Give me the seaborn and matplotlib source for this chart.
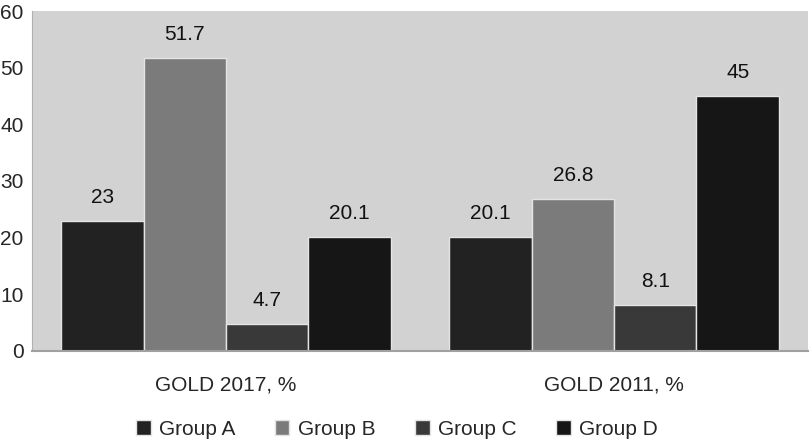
# Grouped bar chart: GOLD 2017 vs GOLD 2011 group distribution

import pandas as pd
import seaborn as sns
import matplotlib.pyplot as plt

# data
categories = ['GOLD 2017, %', 'GOLD 2011, %']
groups = ['Group A', 'Group B', 'Group C', 'Group D']
group_a = [23, 20.1]
group_b = [51.7, 26.8]
group_c = [4.7, 8.1]
group_d = [20.1, 45]
value_labels = {'Group A': ['23', '20.1'], 'Group B': ['51.7', '26.8'],
                'Group C': ['4.7', '8.1'], 'Group D': ['20.1', '45']}
colors = ['#222222', '#7b7b7b', '#393939', '#161616']

rows = []
for g, vals in zip(groups, [group_a, group_b, group_c, group_d]):
    for c, v in zip(categories, vals):
        rows.append({'category': c, 'group': g, 'value': v})
df = pd.DataFrame(rows)

sns.set_style('white')
plt.rcParams['font.family'] = ['Liberation Sans', 'DejaVu Sans']

fig = plt.figure(figsize=(8.1, 4.42), dpi=100)
ax = fig.add_axes([0.0395, 0.206, 0.958, 0.769])
ax.set_facecolor('#d2d2d2')

sns.barplot(data=df, x='category', y='value', hue='group', order=categories,
            hue_order=groups, palette=colors, width=0.85, ax=ax,
            edgecolor='#e4e4e4', linewidth=1, saturation=1)

# value labels on top of the bars
for cont, g in zip(ax.containers, groups):
    ax.bar_label(cont, labels=value_labels[g], padding=10, fontsize=15, color='#111111')

ax.set_ylim(0, 60)
ax.set_xlim(-0.5, 1.5)
ax.set_yticks(range(0, 61, 10))
ax.set_xlabel('')
ax.set_ylabel('')
ax.tick_params(axis='y', labelsize=15, length=0, pad=6)
ax.tick_params(axis='x', labelsize=15, length=0, pad=18)

for side in ['top', 'right']:
    ax.spines[side].set_visible(False)
ax.spines['left'].set_color('#b0b0b0')
ax.spines['bottom'].set_color('#a0a0a0')
ax.spines['bottom'].set_linewidth(1.5)

# legend along the bottom
handles, labels = ax.get_legend_handles_labels()
ax.legend_.remove()
fig.legend(handles, labels, loc='lower center', bbox_to_anchor=(0.49, -0.035),
           ncol=4, frameon=False, fontsize=15, handlelength=0.7,
           handleheight=0.7, handletextpad=0.4, columnspacing=1.9)

fig.savefig('out.png', dpi=100)
